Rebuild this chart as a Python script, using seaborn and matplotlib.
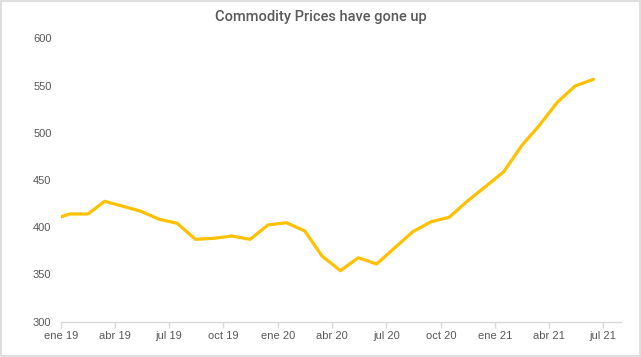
import pandas as pd
import seaborn as sns
import matplotlib.pyplot as plt
from matplotlib.patches import Rectangle

# fechas: primer dato el 1 de enero, luego mensual a mitad de mes
fechas = ["2019-01-01"] + [d.strftime("%Y-%m-%d") for d in pd.date_range("2019-01-01", "2021-06-01", freq="MS") + pd.Timedelta(days=14)]
precios = [
    411.1,
    414.0, 414.0, 427.4, 422.2, 416.9, 408.4, 404.2, 387.2, 388.3, 390.7, 387.2, 402.4,
    404.8, 396.0, 369.5, 354.0, 367.7, 361.1, 378.0, 395.3, 405.9, 410.5, 427.8, 442.9,
    458.8, 487.0, 507.2, 532.2, 549.5, 556.6,
]
meses = ["ene", "feb", "mar", "abr", "may", "jun", "jul", "ago", "sep", "oct", "nov", "dic"]
ticks_x = ["2019-01-01", "2019-04-01", "2019-07-01", "2019-10-01", "2020-01-01", "2020-04-01",
           "2020-07-01", "2020-10-01", "2021-01-01", "2021-04-01", "2021-07-01"]
ticks_y = [300, 350, 400, 450, 500, 550, 600]
titulo = "Commodity Prices have gone up"

df = pd.DataFrame({"fecha": pd.to_datetime(fechas), "precio": precios})

sns.set_style("white")
plt.rcParams["font.family"] = ["Liberation Sans", "DejaVu Sans"]

fig = plt.figure(figsize=(6.41, 3.57), dpi=100)
ax = fig.add_axes([0.0956, 0.0989, 0.8738, 0.7938])

sns.lineplot(data=df, x="fecha", y="precio", ax=ax, color="#FFC000", linewidth=2.3)

ax.set_ylim(300, 600)
ax.set_xlim(pd.Timestamp("2019-01-01"), pd.Timestamp("2021-08-01"))
ax.set_yticks(ticks_y)
ax.set_yticklabels([str(t) for t in ticks_y])
xt = pd.to_datetime(ticks_x)
ax.set_xticks(xt)
ax.set_xticklabels([f"{meses[d.month - 1]} {d.year % 100:02d}" for d in xt])

ax.set_xlabel("")
ax.set_ylabel("")
for s in ["top", "right", "left"]:
    ax.spines[s].set_visible(False)
ax.spines["bottom"].set_color("#D9D9D9")
ax.spines["bottom"].set_linewidth(1)
ax.tick_params(axis="x", length=4, width=1, color="#D9D9D9", pad=3,
               labelsize=8, labelcolor="#595959", direction="out", bottom=True)
ax.tick_params(axis="y", length=0, pad=7, labelsize=8, labelcolor="#595959")
ax.grid(False)

fig.text(0.5, 0.952, titulo, ha="center", va="center", fontsize=10.5, color="#595959",
         fontweight="medium", family=["Roboto", "Liberation Sans", "DejaVu Sans"])

# marco del gráfico
fig.add_artist(Rectangle((0.001, 0.002), 0.997, 0.995, transform=fig.transFigure,
                         fill=False, edgecolor="#D9D9D9", linewidth=1.2))

fig.savefig("out.png", dpi=100)
